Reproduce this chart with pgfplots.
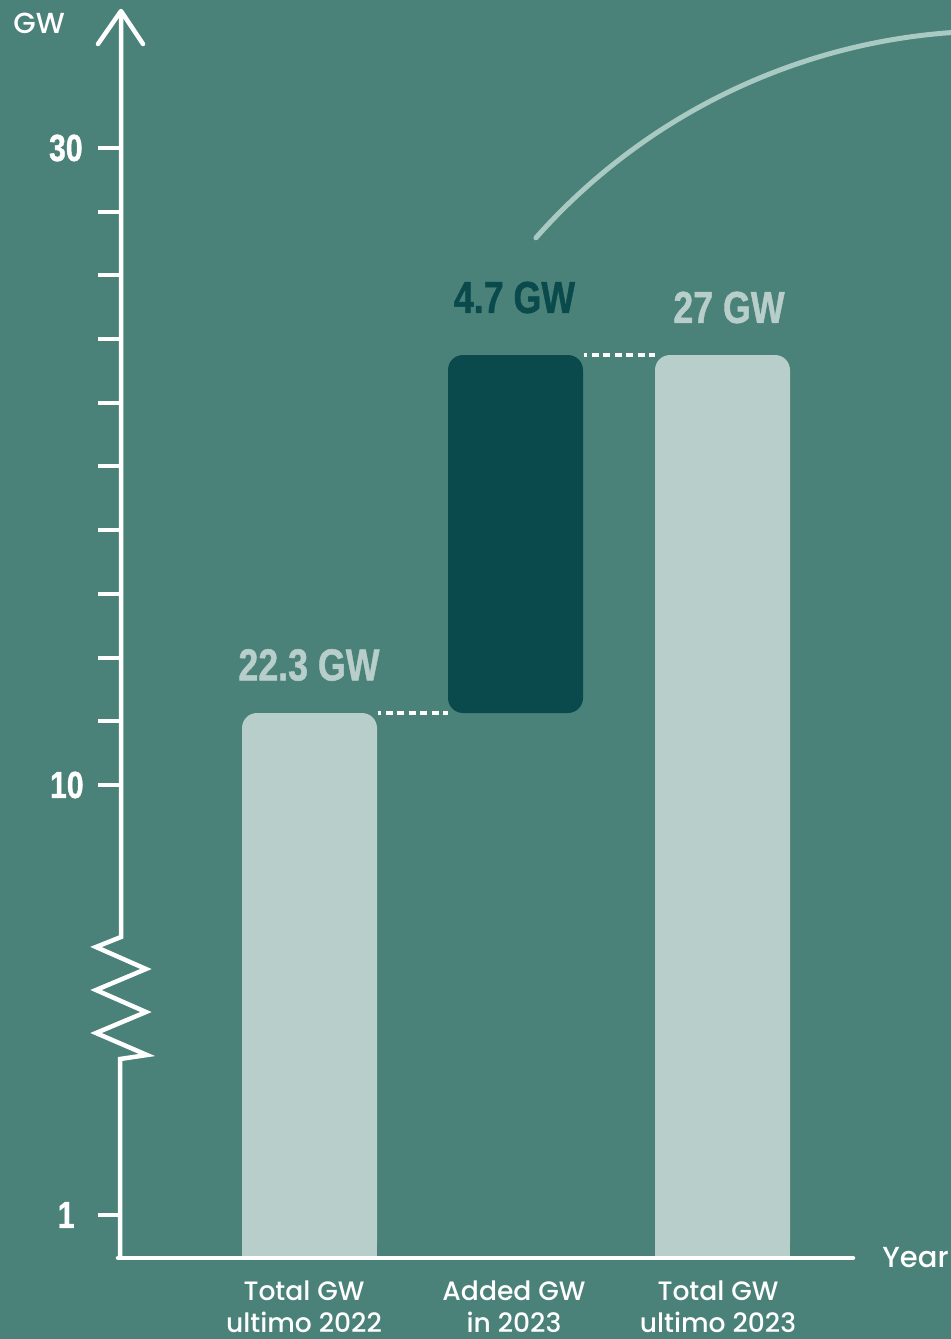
\documentclass[border=0pt]{standalone}
\usepackage{pgfplots}
\pgfplotsset{compat=1.18}
\usepackage{fontspec}
\usepackage{graphicx}
\setmainfont{Poppins}[UprightFont=* Medium]
\newfontfamily\numfont{Liberation Sans}[BoldFeatures={FakeBold=1.2}]
\definecolor{bgc}{HTML}{4A8178}
\definecolor{lightbar}{HTML}{B7CECA}
\definecolor{darkbar}{HTML}{0A4A4C}
\definecolor{arccol}{HTML}{A9C9C3}
% 1 reference pixel = 0.5pt
\newcommand{\cond}[2]{\scalebox{0.8}[1]{\fontsize{#1}{#1}\selectfont\numfont\bfseries #2}}
\newcommand{\lab}[1]{\fontsize{13.3}{15}\selectfont #1}
\begin{document}
\begin{tikzpicture}
\useasboundingbox (0,0) rectangle (475.5pt,669.5pt);
\fill[bgc] (0,0) rectangle (475.5pt,669.5pt);
\begin{scope}
\clip (0,0) rectangle (475.5pt,669.5pt);
\begin{axis}[x=0.5pt, y=0.5pt, xmin=0, xmax=951, ymin=0, ymax=1339, y dir=reverse,
  hide axis, clip=false, at={(0,0)}, anchor=north west, yshift=669.5pt]
% bars (pixel positions: the chart is drawn not to scale)
% Total GW ultimo 2022 = 22.3 GW
\addplot[fill=lightbar, draw=none, rounded corners=7.5pt] coordinates {(242,1258) (242,713) (377,713) (377,1258)} -- cycle;
\addplot[fill=lightbar, draw=none] coordinates {(242,1258) (242,1180) (377,1180) (377,1258)} -- cycle;
% Added GW in 2023 = 4.7 GW
\addplot[fill=darkbar, draw=none, rounded corners=7.5pt] coordinates {(448,713) (448,355) (583,355) (583,713)} -- cycle;
% Total GW ultimo 2023 = 27 GW
\addplot[fill=lightbar, draw=none, rounded corners=7.5pt] coordinates {(655,1258) (655,355) (790,355) (790,1258)} -- cycle;
\addplot[fill=lightbar, draw=none] coordinates {(655,1258) (655,1180) (790,1180) (790,1258)} -- cycle;
% connectors
\draw[white, line width=1.75pt, dash pattern=on 3.5pt off 2.25pt, dash phase=2pt] (axis cs:378,713) -- (axis cs:448,713);
\draw[white, line width=1.75pt, dash pattern=on 3.5pt off 2.25pt, dash phase=2pt] (axis cs:584,355) -- (axis cs:655,355);
% arc
\draw[arccol, line width=2.5pt, line cap=round] (axis cs:995,644) ++(138.5:306.5pt) arc[start angle=138.5, end angle=80, radius=306.5pt];
% axes
\draw[white, line width=2.25pt, line cap=round, line join=round] (axis cs:98,44) -- (axis cs:121,11) -- (axis cs:143,44);
\draw[white, line width=2.25pt, line join=miter] (axis cs:121,11) -- (axis cs:121,937) -- (axis cs:96,947) -- (axis cs:146,969) -- (axis cs:96,990) -- (axis cs:146,1012) -- (axis cs:96,1033) -- (axis cs:147,1055) -- (axis cs:120,1059) -- (axis cs:120,1258);
\draw[white, line width=2.25pt, line cap=round] (axis cs:118,1258) -- (axis cs:853,1258);
\draw[white, line width=2.25pt] (axis cs:98,148) -- (axis cs:121,148);
\draw[white, line width=2.25pt] (axis cs:98,212) -- (axis cs:121,212);
\draw[white, line width=2.25pt] (axis cs:98,275) -- (axis cs:121,275);
\draw[white, line width=2.25pt] (axis cs:98,339) -- (axis cs:121,339);
\draw[white, line width=2.25pt] (axis cs:98,403) -- (axis cs:121,403);
\draw[white, line width=2.25pt] (axis cs:98,466) -- (axis cs:121,466);
\draw[white, line width=2.25pt] (axis cs:98,530) -- (axis cs:121,530);
\draw[white, line width=2.25pt] (axis cs:98,594) -- (axis cs:121,594);
\draw[white, line width=2.25pt] (axis cs:98,658) -- (axis cs:121,658);
\draw[white, line width=2.25pt] (axis cs:98,721) -- (axis cs:121,721);
\draw[white, line width=2.25pt] (axis cs:98,785) -- (axis cs:121,785);
\draw[white, line width=2.25pt] (axis cs:98,1215) -- (axis cs:121,1215);
% tick labels
\node[anchor=east, inner sep=0, white] at (axis cs:83,148) {\cond{18.85}{30}};
\node[anchor=east, inner sep=0, white] at (axis cs:84,785) {\cond{18.85}{10}};
\node[anchor=east, inner sep=0, white] at (axis cs:75,1215) {\cond{18.85}{1}};
% value labels
\node[inner sep=0, text=lightbar] at (axis cs:309,665) {\cond{22.35}{22.3 GW}};
\node[inner sep=0, text=darkbar] at (axis cs:514.5,297.5) {\cond{22.35}{4.7 GW}};
\node[inner sep=0, text=lightbar] at (axis cs:729,307.5) {\cond{22.35}{27 GW}};
% axis titles
\node[anchor=base west, inner sep=0, white] at (axis cs:13,33) {\fontsize{14.5}{16}\selectfont GW};
\node[anchor=base west, inner sep=0, white] at (axis cs:882,1267) {\fontsize{14.5}{16}\selectfont Year};
% category labels
\node[anchor=base, inner sep=0, white] at (axis cs:304,1300) {\lab{Total GW}};
\node[anchor=base, inner sep=0, white] at (axis cs:304,1332) {\lab{ultimo 2022}};
\node[anchor=base, inner sep=0, white] at (axis cs:514,1300) {\lab{Added GW}};
\node[anchor=base, inner sep=0, white] at (axis cs:514,1332) {\lab{in 2023}};
\node[anchor=base, inner sep=0, white] at (axis cs:718,1300) {\lab{Total GW}};
\node[anchor=base, inner sep=0, white] at (axis cs:718,1332) {\lab{ultimo 2023}};
\end{axis}
\end{scope}
\end{tikzpicture}
\end{document}
